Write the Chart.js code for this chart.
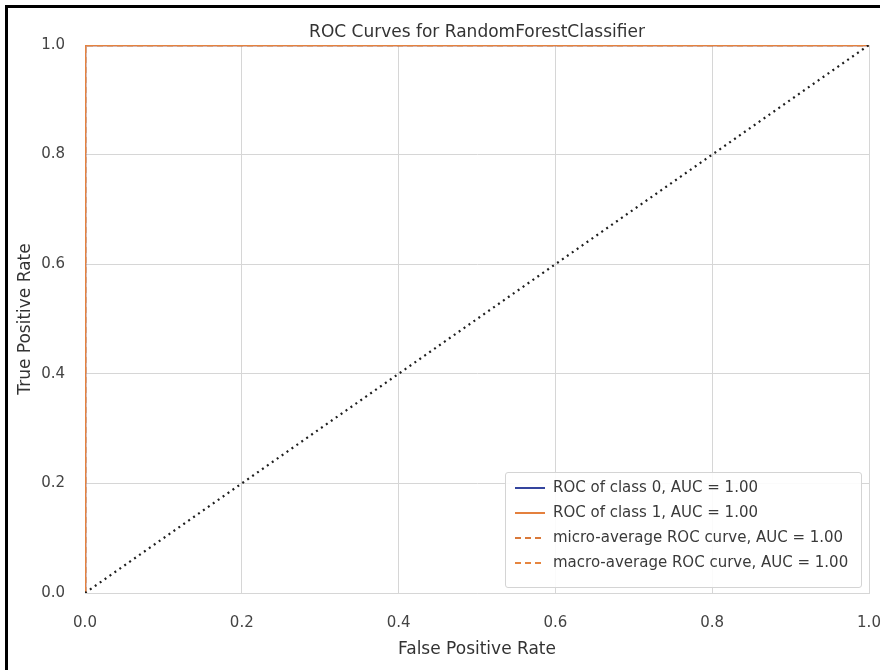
<!DOCTYPE html>
<html>
<head>
<meta charset="utf-8">
<script src="https://cdn.jsdelivr.net/npm/chart.js@4/dist/chart.umd.min.js"></script>
<style>
  html, body { margin: 0; padding: 0; background: #ffffff; overflow: hidden; }
  #wrap { position: relative; width: 886px; height: 670px; }
  #frame { position: absolute; left: 5px; top: 5px; width: 872px; height: 700px;
           border-left: 3px solid #000; border-top: 3px solid #000; pointer-events: none; }
</style>
</head>
<body>
<div id="wrap">
  <canvas id="c" width="886" height="670"></canvas>
  <div id="frame"></div>
</div>
<script>
// ---- data ----
const chartTitle = 'ROC Curves for RandomForestClassifier';
const xTitle = 'False Positive Rate';
const yTitle = 'True Positive Rate';
const tickValues = [0.0, 0.2, 0.4, 0.6, 0.8, 1.0];

const fprClass0 = [0, 0, 1];
const tprClass0 = [0, 1, 1];
const fprClass1 = [0, 0, 1];
const tprClass1 = [0, 1, 1];
const fprMicro = [0, 0, 1];
const tprMicro = [0, 1, 1];
const fprMacro = [0, 0, 1];
const tprMacro = [0, 1, 1];
const diagX = [0, 1];
const diagY = [0, 1];

const seriesLabels = [
  'ROC of class 0, AUC = 1.00',
  'ROC of class 1, AUC = 1.00',
  'micro-average ROC curve, AUC = 1.00',
  'macro-average ROC curve, AUC = 1.00'
];

const toPts = (xs, ys) => xs.map((x, i) => ({ x: x, y: ys[i] }));

const FONT = "'DejaVu Sans', sans-serif";
const colBlue = '#34459e';
const colOrange = '#e4803e';
const colMicro = '#d9793a';
const colMacro = '#e6853f';

const legendPlugin = {
  id: 'innerLegend',
  afterDraw(chart) {
    const ctx = chart.ctx;
    const a = chart.chartArea;
    const right = a.right - 7, bottom = a.bottom - 5;
    const top = bottom - 116, left = right - 357;
    ctx.save();
    ctx.fillStyle = 'rgba(255,255,255,0.9)';
    ctx.strokeStyle = '#d4d4d4';
    ctx.lineWidth = 1;
    const r = 3;
    ctx.beginPath();
    ctx.moveTo(left + r, top + 0.5);
    ctx.lineTo(right - r, top + 0.5);
    ctx.quadraticCurveTo(right - 0.5, top + 0.5, right - 0.5, top + r);
    ctx.lineTo(right - 0.5, bottom - r);
    ctx.quadraticCurveTo(right - 0.5, bottom - 0.5, right - r, bottom - 0.5);
    ctx.lineTo(left + r, bottom - 0.5);
    ctx.quadraticCurveTo(left + 0.5, bottom - 0.5, left + 0.5, bottom - r);
    ctx.lineTo(left + 0.5, top + r);
    ctx.quadraticCurveTo(left + 0.5, top + 0.5, left + r, top + 0.5);
    ctx.closePath();
    ctx.fill();
    ctx.stroke();
    const styles = [
      { c: colBlue, d: [] },
      { c: colOrange, d: [] },
      { c: colMicro, d: [6, 4] },
      { c: colMacro, d: [6, 4] }
    ];
    ctx.font = '15px ' + FONT;
    ctx.textBaseline = 'middle';
    ctx.textAlign = 'left';
    seriesLabels.forEach((lab, i) => {
      const y = top + 16 + i * 25;
      ctx.strokeStyle = styles[i].c;
      ctx.lineWidth = 2;
      ctx.setLineDash(styles[i].d);
      ctx.beginPath();
      ctx.moveTo(left + 10, y);
      ctx.lineTo(left + 40, y);
      ctx.stroke();
      ctx.setLineDash([]);
      ctx.fillStyle = '#3a3a3a';
      ctx.fillText(lab, left + 48, y);
    });
    ctx.restore();
  }
};

new Chart(document.getElementById('c'), {
  type: 'line',
  data: {
    datasets: [
      { label: seriesLabels[0], data: toPts(fprClass0, tprClass0), borderColor: colBlue, borderWidth: 2.5, order: 4, clip: 0 },
      { label: seriesLabels[1], data: toPts(fprClass1, tprClass1), borderColor: colOrange, borderWidth: 2.5, order: 3, clip: 0 },
      { label: seriesLabels[2], data: toPts(fprMicro, tprMicro), borderColor: colMicro, borderWidth: 2.5, borderDash: [6, 4], order: 2, clip: 0 },
      { label: seriesLabels[3], data: toPts(fprMacro, tprMacro), borderColor: colMacro, borderWidth: 2.5, borderDash: [6, 4], order: 1, clip: 0 },
      { label: 'diagonal', data: toPts(diagX, diagY), borderColor: '#1e1e1e', borderWidth: 2.2, borderDash: [2, 4], order: 0, clip: 0 }
    ]
  },
  options: {
    responsive: false,
    animation: false,
    elements: { point: { radius: 0 }, line: { tension: 0 } },
    layout: { padding: { left: 0, top: 0, right: 17, bottom: 0 } },
    plugins: {
      legend: { display: false },
      tooltip: { enabled: false },
      title: {
        display: true,
        fullSize: false,
        text: chartTitle,
        color: '#333333',
        font: { family: FONT, size: 17, weight: 'normal', lineHeight: 1.2 },
        padding: { top: 22, bottom: 2.6 }
      }
    },
    scales: {
      x: {
        type: 'linear',
        min: 0, max: 1,
        afterBuildTicks: (s) => { s.ticks = tickValues.map(v => ({ value: v })); },
        afterFit: (s) => { s.height = 77; s.paddingLeft = 0; s.paddingRight = 0; },
        ticks: {
          padding: 21,
          color: '#444444',
          font: { family: FONT, size: 15 },
          callback: (v) => Number(v).toFixed(1)
        },
        grid: { color: '#d6d6d6', lineWidth: 1, drawTicks: false },
        border: { color: '#d6d6d6' },
        title: {
          display: true,
          text: xTitle,
          color: '#333333',
          font: { family: FONT, size: 17 },
          padding: { top: 10, bottom: 10 }
        }
      },
      y: {
        type: 'linear',
        min: 0, max: 1,
        afterBuildTicks: (s) => { s.ticks = tickValues.map(v => ({ value: v })); },
        afterFit: (s) => { s.width = 85; },
        ticks: {
          padding: 20,
          color: '#444444',
          font: { family: FONT, size: 15 },
          callback: (v) => Number(v).toFixed(1)
        },
        grid: { color: '#d6d6d6', lineWidth: 1, drawTicks: false },
        border: { color: '#d6d6d6' },
        title: {
          display: true,
          text: yTitle,
          color: '#333333',
          font: { family: FONT, size: 17 },
          padding: { top: 15, bottom: 0 }
        }
      }
    }
  },
  plugins: [legendPlugin]
});
</script>
</body>
</html>
